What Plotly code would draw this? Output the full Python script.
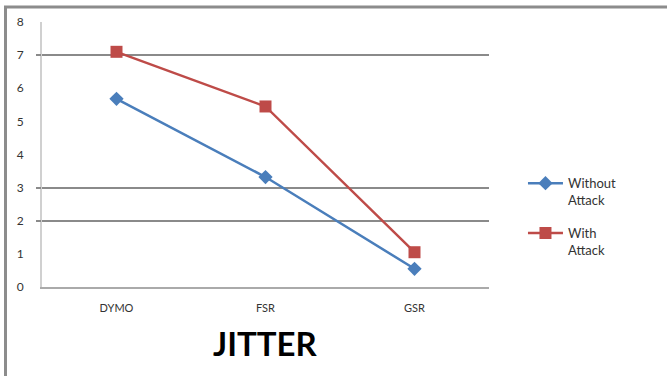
import plotly.graph_objects as go

categories = ["DYMO", "FSR", "GSR"]
without_attack = [5.68, 3.32, 0.55]
with_attack = [7.1, 5.45, 1.05]
grid_values = [2, 3, 7]
y_ticks = [0, 1, 2, 3, 4, 5, 6, 7, 8]

BLUE = "#4a7ebb"
RED = "#be4b48"
FONT = "Lato"

fig = go.Figure()
fig.add_trace(go.Scatter(
    x=categories, y=without_attack, mode="lines+markers",
    name="Without<br>Attack", legendgroup="a",
    line=dict(color=BLUE, width=2.5),
    marker=dict(symbol="diamond", size=11, color=BLUE),
))
fig.add_trace(go.Scatter(
    x=categories, y=with_attack, mode="lines+markers",
    name="With<br>Attack", legendgroup="b",
    line=dict(color=RED, width=2.5),
    marker=dict(symbol="square", size=12, color=RED),
))
# overlay axis that carries the horizontal gridlines
fig.add_trace(go.Scatter(x=categories, y=[None] * 3, yaxis="y2",
                         showlegend=False, hoverinfo="skip"))

fig.update_layout(
    width=667, height=376,
    margin=dict(l=42, r=178, t=22, b=89),
    paper_bgcolor="white", plot_bgcolor="white",
    font=dict(family=FONT, size=11, color="#222"),
    showlegend=True,
    legend=dict(x=1.076, y=0.265, xanchor="left", yanchor="middle",
                valign="top", traceorder="grouped", tracegroupgap=13,
                font=dict(family=FONT, size=13, color="#333"),
                itemwidth=35, bgcolor="rgba(0,0,0,0)"),
    xaxis=dict(range=[-0.5, 2.5], showgrid=False, showline=True,
               linecolor="#aaaaaa", linewidth=2, ticks="",
               ticklabelstandoff=10,
               tickfont=dict(size=11, color="#333")),
    yaxis=dict(range=[0, 8], tickvals=y_ticks, showgrid=False,
               showline=True, linecolor="#d0d0d0", linewidth=2,
               ticks="", ticklabelstandoff=14,
               tickfont=dict(size=12, color="#333"), zeroline=False),
    yaxis2=dict(range=[0, 8], overlaying="y", tickvals=grid_values,
                showgrid=True, gridcolor="#8a8a8a", gridwidth=1.5,
                showticklabels=False, ticks="outside", ticklen=5,
                tickcolor="#8a8a8a", tickwidth=1.5, side="left",
                zeroline=False, showline=False),
    annotations=[dict(text="<b>JITTER</b>", x=0.5, xref="paper",
                      y=-0.21, yref="paper", xanchor="center", yanchor="middle",
                      showarrow=False, font=dict(family=FONT, size=33, color="black"))],
    shapes=[
        dict(type="line", xref="paper", yref="paper",
             x0=(5.5 - 42) / 447, x1=(5.5 - 42) / 447, y0=-89 / 265, y1=(287 - 7) / 265,
             line=dict(color="#8c8c8c", width=3)),
        dict(type="line", xref="paper", yref="paper",
             x0=(4 - 42) / 447, x1=(667 - 42) / 447, y0=(287 - 7) / 265, y1=(287 - 7) / 265,
             line=dict(color="#8c8c8c", width=3)),
    ],
)

fig.write_html("out.html")
